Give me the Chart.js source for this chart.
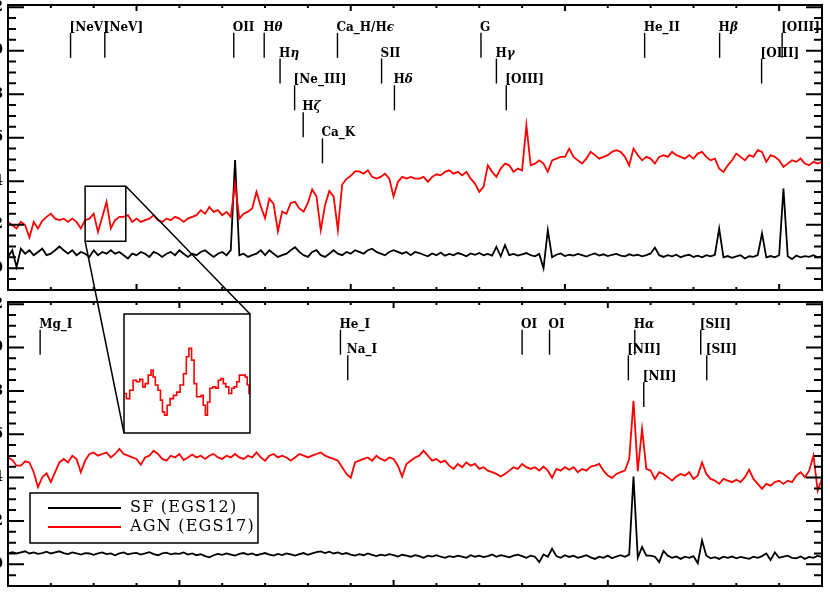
<!DOCTYPE html>
<html>
<head>
<meta charset="utf-8">
<title>SF (EGS12) / AGN (EGS17) spectra</title>
<script src="https://cdn.jsdelivr.net/npm/chart.js@4.4.1/dist/chart.umd.min.js"></script>
<style>
  html, body { margin: 0; padding: 0; background: #fff; overflow: hidden; }
  body { position: relative; width: 830px; height: 593px; }
  canvas { position: absolute; }
  #topPanel { left: -40px; top: 0; }
  #bottomPanel { left: -40px; top: 296px; }
  #insetPanel { left: 123px; top: 313px; }
  #overlay { left: 0; top: 0; pointer-events: none; }
</style>
</head>
<body>
<canvas id="topPanel" width="870" height="296"></canvas>
<canvas id="bottomPanel" width="870" height="297"></canvas>
<canvas id="insetPanel" width="128" height="121"></canvas>
<canvas id="overlay" width="830" height="593"></canvas>
<script>
'use strict'

// wavelength grid, 10 A bins
const waveGrid = (from, to) => {
  const w = []
  for (let v = from; v <= to; v += 10) w.push(v)
  return w
}
const topWave = waveGrid(3200, 5100)
const bottomWave = waveGrid(5100, 7000)

const seriesLabels = ['SF (EGS12)', 'AGN (EGS17)']
const seriesColors = ['#000000', '#ff0000']

// top panel, 3200-5100 A
const topSF = [
  0.52, 0.83, 0.06, 0.9, 0.67, 0.83, 0.6, 0.75, 0.9, 0.6,
  0.67, 0.83, 1.0, 0.83, 0.67, 0.83, 0.6, 0.75, 0.67, 0.52,
  0.83, 0.6, 0.75, 0.67, 0.83, 0.67, 0.75, 0.6, 0.45, 0.67,
  0.6, 0.75, 0.67, 0.52, 0.75, 0.67, 0.52, 0.67, 0.75, 0.6,
  0.83, 0.67, 0.52, 0.67, 0.6, 0.75, 0.83, 0.67, 0.52, 0.67,
  0.75, 0.6, 0.83, 4.97, 0.6, 0.67, 0.52, 0.6, 0.67, 0.83,
  0.6, 0.83, 0.67, 0.52, 0.6, 0.67, 0.83, 0.97, 0.75, 0.6,
  0.52, 0.75, 0.83, 0.6, 0.52, 0.67, 0.83, 0.67, 0.6, 0.75,
  0.67, 0.83, 0.75, 0.67, 0.83, 0.9, 0.75, 0.67, 0.6, 0.75,
  0.83, 0.75, 0.67, 0.75, 0.6, 0.75, 0.7, 0.62, 0.55, 0.68,
  0.6, 0.72, 0.58, 0.66, 0.6, 0.7, 0.64, 0.55, 0.68, 0.62,
  0.7, 0.6, 0.66, 0.58, 0.98, 0.55, 1.06, 0.6, 0.66, 0.58,
  0.64, 0.7, 0.6, 0.55, 0.66, 0.0, 1.75, 0.5, 0.62, 0.68,
  0.56, 0.62, 0.58, 0.66, 0.6, 0.54, 0.62, 0.68, 0.58, 0.64,
  0.56, 0.62, 0.66, 0.58, 0.55, 0.64, 0.58, 0.62, 0.55, 0.6,
  0.68, 0.95, 0.6, 0.52, 0.6, 0.55, 0.62, 0.5, 0.58, 0.62,
  0.52, 0.58, 0.5, 0.6, 0.55, 0.62, 1.82, 0.5, 0.56, 0.48,
  0.55, 0.6, 0.45, 0.55, 0.52, 0.6, 1.6, 0.5, 0.56, 0.5,
  0.6, 3.66, 0.55, 0.42, 0.58, 0.5, 0.56, 0.52, 0.6, 0.5,
  0.56
]
const topAGN = [
  2.13, 1.98, 1.83, 2.13, 1.98, 1.41, 2.13, 1.83, 2.18, 2.36,
  2.51, 2.28, 2.21, 2.28, 2.13, 2.28, 2.13, 1.83, 2.21, 2.28,
  2.51, 1.67, 2.36, 3.05, 1.83, 2.21, 2.36, 2.36, 2.44, 2.13,
  2.28, 2.13, 2.21, 2.28, 2.44, 2.21, 2.13, 2.28, 2.21, 2.36,
  2.28, 2.13, 2.28, 2.36, 2.44, 2.67, 2.51, 2.82, 2.59, 2.67,
  2.44, 2.59, 2.36, 3.89, 2.28, 2.51, 2.6, 2.75, 3.51, 2.85,
  2.3, 3.2, 2.95, 1.7, 2.6, 2.5, 3.0, 3.05, 2.75, 2.6,
  3.0, 3.62, 3.3, 1.75, 2.9, 3.55, 3.3, 1.75, 3.85, 4.1,
  4.25, 4.45, 4.45, 4.35, 4.5, 4.2, 4.12, 4.2, 4.35, 4.12,
  3.3, 3.97, 4.2, 4.12, 4.2, 4.12, 4.12, 4.2, 3.97, 4.2,
  4.32, 4.27, 4.43, 4.5, 4.35, 4.43, 4.27, 4.43, 4.12, 3.89,
  3.51, 3.74, 4.73, 4.43, 4.2, 4.58, 4.81, 4.73, 4.43, 4.58,
  4.5, 6.57, 4.73, 4.81, 4.96, 4.81, 4.43, 4.96, 5.04, 5.12,
  5.12, 5.5, 5.12, 4.96, 4.81, 5.04, 5.35, 5.2, 5.04, 5.12,
  5.2, 5.35, 5.43, 5.35, 5.12, 4.73, 5.5, 5.2, 4.96, 5.12,
  5.04, 4.81, 5.12, 5.2, 5.12, 5.35, 5.2, 5.12, 5.04, 5.2,
  5.04, 5.27, 5.35, 5.12, 4.96, 5.04, 4.58, 4.43, 4.73, 4.96,
  5.27, 5.12, 4.96, 5.2, 5.12, 5.43, 5.35, 4.89, 5.2, 5.12,
  4.96, 4.66, 4.81, 4.96, 4.89, 5.04, 4.81, 4.73, 4.89, 4.81,
  4.89
]

// bottom panel, 5100-7000 A
const bottomSF = [
  0.5, 0.56, 0.5, 0.55, 0.6, 0.5, 0.55, 0.48, 0.52, 0.58,
  0.5, 0.55, 0.6, 0.52, 0.47, 0.55, 0.5, 0.45, 0.52, 0.5,
  0.44, 0.5, 0.55, 0.47, 0.5, 0.42, 0.5, 0.55, 0.46, 0.5,
  0.53, 0.45, 0.5, 0.56, 0.47, 0.42, 0.5, 0.54, 0.46, 0.5,
  0.48, 0.55, 0.45, 0.5, 0.42, 0.47, 0.38, 0.32, 0.42, 0.48,
  0.44, 0.5, 0.45, 0.4, 0.48, 0.52, 0.45, 0.5, 0.42, 0.47,
  0.52, 0.45, 0.4, 0.48, 0.43, 0.5, 0.46, 0.4, 0.47, 0.52,
  0.44, 0.5, 0.56, 0.6, 0.52, 0.58, 0.5, 0.55, 0.47, 0.52,
  0.45, 0.4, 0.47, 0.42, 0.5, 0.44, 0.38, 0.45, 0.4, 0.47,
  0.42, 0.36, 0.44, 0.4, 0.35, 0.42, 0.38, 0.3, 0.4, 0.36,
  0.42, 0.35, 0.3, 0.38, 0.33, 0.4, 0.36, 0.3, 0.42, 0.35,
  0.4, 0.33, 0.38, 0.45, 0.35, 0.42, 0.38, 0.32, 0.4, 0.45,
  0.38, 0.3, 0.4, 0.35, 0.1, 0.45, 0.35, 0.72, 0.38, 0.3,
  0.42, 0.34, 0.4, 0.3, 0.36, 0.42, 0.32, 0.25, 0.35, 0.3,
  0.4, 0.28, 0.36, 0.42, 0.35, 0.45, 4.05, 0.3, 0.8, 0.4,
  0.4, 0.35, 0.1, 0.62, 0.4, 0.3, 0.36, 0.25, 0.35, 0.3,
  0.38, 0.05, 1.1, 0.4, 0.28, 0.33, 0.25, 0.35, 0.3, 0.36,
  0.28, 0.34, 0.3, 0.25, 0.35, 0.3, 0.38, 0.5, 0.2, 0.55,
  0.3, 0.35, 0.4, 0.3, 0.28, 0.36, 0.25, 0.34, 0.3, 0.4,
  0.33
]
const bottomAGN = [
  4.93, 4.81, 4.55, 4.55, 4.75, 4.7, 4.25, 3.56, 4.02, 4.2,
  3.79, 4.25, 4.7, 4.86, 4.7, 5.01, 4.86, 4.25, 4.78, 5.09,
  5.16, 5.01, 5.09, 5.16, 4.93, 5.09, 5.32, 5.09, 5.01, 4.93,
  4.86, 4.6, 4.93, 5.01, 5.24, 5.09, 4.86, 4.78, 5.01, 4.93,
  5.09, 4.81, 4.93, 5.06, 4.93, 5.01, 4.86, 5.01, 5.09, 4.93,
  4.86, 5.01, 4.93, 5.09, 4.93, 4.86, 5.01, 4.93, 5.16, 4.93,
  4.78, 5.01, 5.09, 4.93, 5.01, 4.93, 4.78, 4.93, 5.09, 5.01,
  4.93, 5.01, 5.09, 5.16, 5.01, 4.93, 4.86, 4.78, 4.48, 4.17,
  3.99, 4.7, 4.78, 4.86, 4.93, 4.78, 5.01, 4.86, 4.78, 4.93,
  4.86, 4.55, 4.05, 4.63, 4.78, 4.93, 5.01, 5.24, 5.01, 4.78,
  4.86, 4.7, 4.78, 4.55, 4.4, 4.63, 4.48, 4.7, 4.55, 4.63,
  4.4, 4.48, 4.32, 4.25, 4.17, 4.05, 4.17, 4.32, 4.48, 4.4,
  4.63, 4.48, 4.4, 4.48, 4.32, 4.51, 4.32, 3.99, 4.4, 4.32,
  4.48, 4.36, 4.48, 4.25, 4.4, 4.32, 4.51, 4.55, 4.63, 4.32,
  4.09, 3.99, 4.17, 4.25, 4.32, 4.86, 7.54, 4.3, 6.25, 4.4,
  4.32, 3.94, 4.25, 4.17, 4.02, 3.86, 4.05, 4.17, 4.09, 4.25,
  3.94, 4.09, 4.7, 4.17, 3.94, 3.86, 3.71, 3.94, 3.86, 3.79,
  3.9, 3.79, 4.02, 4.36, 3.94, 3.71, 3.48, 3.71, 3.63, 3.79,
  3.86, 3.71, 3.86, 3.79, 4.09, 4.25, 4.02, 4.32, 5.01, 3.4,
  3.94
]

// zoomed view of the [NeV] region (AGN)
const zoomWave = [3380, 3475]
const zoomFlux = [1.24, 3.77]
const insetWave = [
  3380.5, 3383, 3385.6, 3388.1, 3390.6, 3393.2, 3395, 3397, 3399.5, 3401.3,
  3402.6, 3404.6, 3406.6, 3408.4, 3409.6, 3411.5, 3413.5, 3416, 3418.5, 3421,
  3423.6, 3426.1, 3427.9, 3429.9, 3432, 3433.7, 3435.8, 3437.5, 3438.8, 3440.6,
  3442.1, 3443.8, 3445.7, 3448.2, 3450.2, 3452, 3454, 3455.8, 3457.8, 3460.3,
  3462.1, 3464.1, 3465.9, 3468, 3470.5, 3472.3, 3473.5, 3475
]
const insetFlux = [
  2.08, 1.97, 2.15, 2.36, 2.33, 2.38, 2.22, 2.29, 2.47, 2.58,
  2.43, 2.26, 2.15, 1.94, 1.69, 1.62, 1.83, 1.97, 2.04, 2.11,
  2.26, 2.5, 2.86, 3.04, 2.79, 2.29, 2.01, 2.01, 2.04, 1.83,
  1.62, 1.9, 2.19, 2.22, 2.19, 2.36, 2.4, 2.29, 2.22, 2.08,
  2.19, 2.22, 2.33, 2.47, 2.47, 2.43, 2.26, 2.08
]

// line identifications: name, rest wavelength, label row
const topLineNames = ['[NeV]', '[NeV]', 'OII', 'Hθ', 'Hη', '[Ne_III]', 'Hζ', 'Ca_K', 'Ca_H/Hϵ',
  'SII', 'Hδ', 'G', 'Hγ', '[OIII]', 'He_II', 'Hβ', '[OIII]', '[OIII]']
const topLineWaves = [3346, 3426, 3727, 3798, 3835, 3869, 3889, 3934, 3969,
  4072, 4102, 4304, 4340, 4363, 4686, 4861, 4959, 5007]
const topLineRows = [0, 0, 0, 0, 1, 2, 3, 4, 0, 1, 2, 0, 1, 2, 0, 0, 1, 0]

const bottomLineNames = ['Mg_I', 'He_I', 'Na_I', 'OI', 'OI', 'Hα', '[NII]', '[NII]', '[SII]', '[SII]']
const bottomLineWaves = [5175, 5876, 5893, 6300, 6364, 6563, 6548, 6584, 6717, 6731]
const bottomLineRows = [0, 0, 1, 0, 0, 0, 1, 2, 0, 1]

const ROW_LEVELS = [11.05, 9.87, 8.64, 7.4, 6.2]
const Y_MIN = -1
const Y_MAX = 12.1
const LABEL_FONT = '12px "DejaVu Serif"'

const pts = (wave, flux) => wave.map((w, i) => ({ x: w, y: flux[i] }))

function drawLabel (ctx, text, x, y) {
  let cx = x
  for (const ch of text) {
    ctx.font = (/[\u0370-\u03ff]/.test(ch) ? 'italic ' : '') + 'bold ' + LABEL_FONT
    ctx.fillText(ch, cx, y)
    cx += ctx.measureText(ch).width
  }
}

// frame, inward ticks, line ids, zoom box and legend
function decor (conf) {
  return {
    id: 'decor',
    afterDraw (chart) {
      const { ctx, chartArea: a } = chart
      const x = chart.scales.x
      const y = chart.scales.y
      ctx.save()

      if (conf.range) {
        // y ticks every 0.5, longer every 2, left and right
        ctx.beginPath()
        for (let v = Y_MIN; v <= Y_MAX + 1e-6; v += 0.5) {
          const py = y.getPixelForValue(v)
          const len = Math.abs(v % 2) < 1e-9 ? 16 : 8
          ctx.moveTo(a.left, py)
          ctx.lineTo(a.left + len, py)
          ctx.moveTo(a.right, py)
          ctx.lineTo(a.right - len, py)
        }
        // x ticks every 100 A, longer every 500 A, bottom and top
        for (let v = conf.range[0]; v <= conf.range[1] + 1e-6; v += 100) {
          const px = x.getPixelForValue(v)
          const len = v % 500 === 0 ? 6 : 3
          ctx.moveTo(px, a.bottom)
          ctx.lineTo(px, a.bottom - len)
          ctx.moveTo(px, a.top)
          ctx.lineTo(px, a.top + len)
        }
        ctx.lineWidth = 2
        ctx.strokeStyle = '#000'
        ctx.stroke()
      }

      ctx.lineWidth = conf.frameWidth || 2
      ctx.strokeStyle = '#000'
      ctx.fillStyle = '#000'
      ctx.strokeRect(a.left, a.top, a.right - a.left, a.bottom - a.top)

      if (conf.lines) {
        ctx.lineWidth = 1.4
        ctx.textBaseline = 'middle'
        ctx.textAlign = 'left'
        conf.lines.names.forEach((name, i) => {
          const px = x.getPixelForValue(conf.lines.waves[i])
          const py = y.getPixelForValue(ROW_LEVELS[conf.lines.rows[i]])
          ctx.beginPath()
          ctx.moveTo(px, py + 5)
          ctx.lineTo(px, py + 30)
          ctx.stroke()
          drawLabel(ctx, name, px - 1, py)
        })
      }

      if (conf.zoomBox) {
        const x0 = x.getPixelForValue(zoomWave[0])
        const x1 = x.getPixelForValue(zoomWave[1])
        const y0 = y.getPixelForValue(zoomFlux[1])
        const y1 = y.getPixelForValue(zoomFlux[0])
        ctx.lineWidth = 1.5
        ctx.strokeRect(x0, y0, x1 - x0, y1 - y0)
      }

      if (conf.legend) {
        const lx = a.left + 22
        const ly = a.top + 191
        ctx.fillStyle = '#fff'
        ctx.fillRect(lx, ly, 228, 50)
        ctx.lineWidth = 1.5
        ctx.strokeRect(lx, ly, 228, 50)
        ctx.font = '16px "DejaVu Serif"'
        ctx.letterSpacing = '1.2px'
        ctx.textBaseline = 'middle'
        ctx.textAlign = 'left'
        seriesLabels.forEach((label, i) => {
          const ry = ly + 15 + i * 19
          ctx.strokeStyle = seriesColors[i]
          ctx.lineWidth = 1.8
          ctx.beginPath()
          ctx.moveTo(lx + 18, ry)
          ctx.lineTo(lx + 91, ry)
          ctx.stroke()
          ctx.fillStyle = '#000'
          ctx.fillText(label, lx + 100, ry)
        })
      }
      ctx.restore()
    }
  }
}

function panel (id, wave, sf, agn, lines, extra) {
  const range = [wave[0], wave[wave.length - 1]]
  return new Chart(document.getElementById(id), {
    type: 'line',
    data: {
      datasets: [
        { label: seriesLabels[1], data: pts(wave, agn), borderColor: seriesColors[1], order: 0 },
        { label: seriesLabels[0], data: pts(wave, sf), borderColor: seriesColors[0], order: 1 }
      ]
    },
    options: {
      responsive: false,
      animation: false,
      events: [],
      layout: { padding: { top: extra.padTop, bottom: extra.padBottom, right: 8, left: 0 } },
      elements: {
        point: { radius: 0 },
        line: { borderWidth: 1.8, tension: 0, fill: false }
      },
      scales: {
        x: { type: 'linear', min: range[0], max: range[1], display: false },
        y: {
          min: Y_MIN,
          max: Y_MAX,
          afterFit: s => {
            s.width = 48
            s.paddingTop = 0
            s.paddingBottom = 0
          },
          grid: { display: false, drawTicks: false },
          border: { display: false },
          ticks: {
            stepSize: 2,
            includeBounds: false,
            autoSkip: false,
            padding: 5,
            color: '#000',
            font: { family: '"DejaVu Serif"', size: 14, weight: 'bold' },
            callback: v => (Math.abs(v % 2) < 1e-9 ? String(v) : '')
          }
        }
      },
      plugins: { legend: { display: false }, tooltip: { enabled: false } }
    },
    plugins: [decor({ range, lines, zoomBox: extra.zoomBox, legend: extra.legend })]
  })
}

const topChart = panel('topPanel', topWave, topSF, topAGN,
  { names: topLineNames, waves: topLineWaves, rows: topLineRows },
  { padTop: 5, padBottom: 6, zoomBox: true })

panel('bottomPanel', bottomWave, bottomSF, bottomAGN,
  { names: bottomLineNames, waves: bottomLineWaves, rows: bottomLineRows },
  { padTop: 6, padBottom: 7, legend: true })

const insetChart = new Chart(document.getElementById('insetPanel'), {
  type: 'line',
  data: {
    datasets: [{ label: seriesLabels[1], data: pts(insetWave, insetFlux), borderColor: seriesColors[1] }]
  },
  options: {
    responsive: false,
    animation: false,
    events: [],
    layout: { padding: 1 },
    elements: {
      point: { radius: 0 },
      line: { borderWidth: 1.6, tension: 0, fill: false, stepped: 'middle' }
    },
    scales: {
      x: { type: 'linear', min: zoomWave[0], max: zoomWave[1], display: false },
      y: { min: zoomFlux[0], max: zoomFlux[1], display: false }
    },
    plugins: { legend: { display: false }, tooltip: { enabled: false } }
  },
  plugins: [decor({ frameWidth: 1.5 })]
})

// connectors from the zoom box to the inset
const ov = document.getElementById('overlay').getContext('2d')
const topCv = topChart.canvas
const insCv = insetChart.canvas
const tx = topChart.scales.x
const ty = topChart.scales.y
const ia = insetChart.chartArea
ov.strokeStyle = '#000'
ov.lineWidth = 1.5
ov.beginPath()
ov.moveTo(tx.getPixelForValue(zoomWave[0]) + topCv.offsetLeft, ty.getPixelForValue(zoomFlux[0]) + topCv.offsetTop)
ov.lineTo(ia.left + insCv.offsetLeft, ia.bottom + insCv.offsetTop)
ov.moveTo(tx.getPixelForValue(zoomWave[1]) + topCv.offsetLeft, ty.getPixelForValue(zoomFlux[1]) + topCv.offsetTop)
ov.lineTo(ia.right + insCv.offsetLeft, ia.top + insCv.offsetTop)
ov.stroke()
</script>
</body>
</html>
